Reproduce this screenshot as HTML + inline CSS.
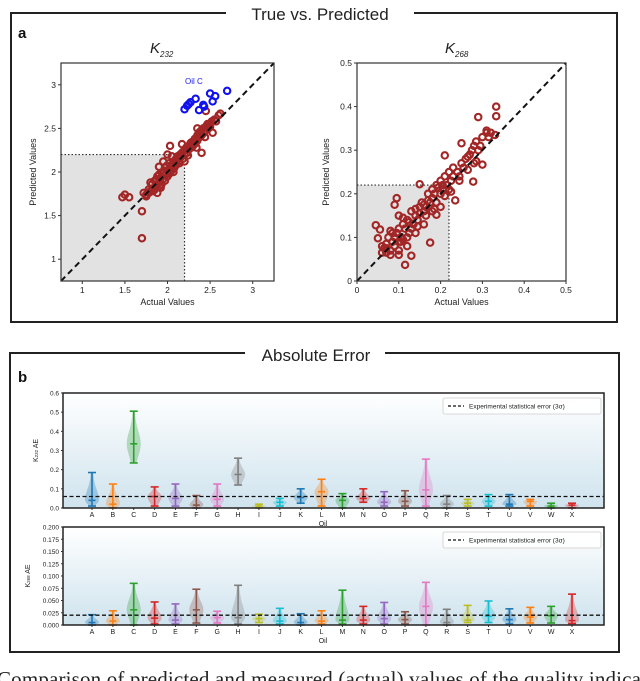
<!DOCTYPE html>
<html><head><meta charset="utf-8"><style>
html,body{margin:0;padding:0;background:#fff;}
svg{display:block;font-family:"Liberation Sans",sans-serif;}
</style></head><body>
<svg id="fig" width="640" height="681" viewBox="0 0 640 681" xmlns="http://www.w3.org/2000/svg">
<defs>
<linearGradient id="bgGrad" x1="0" y1="1" x2="0" y2="0">
<stop offset="0" stop-color="#cfe3ee"/><stop offset="1" stop-color="#ffffff"/>
</linearGradient>
</defs>
<rect x="11" y="13" width="606" height="309" fill="none" stroke="#222" stroke-width="2"/>
<rect x="226" y="2" width="188" height="22" fill="#fff"/>
<text x="320" y="20" font-size="17" text-anchor="middle" fill="#222">True vs. Predicted</text>
<text x="18" y="38" font-size="15" font-weight="bold" fill="#111">a</text>
<text x="150" y="53" font-size="15" font-style="italic" fill="#222">K<tspan font-size="8" dy="4">232</tspan></text>
<text x="445" y="53" font-size="15" font-style="italic" fill="#222">K<tspan font-size="8" dy="4">268</tspan></text>
<rect x="10" y="353" width="609" height="299" fill="none" stroke="#222" stroke-width="2"/>
<rect x="245" y="342" width="140" height="22" fill="#fff"/>
<text x="316" y="361" font-size="17" text-anchor="middle" fill="#222">Absolute Error</text>
<text x="18" y="382" font-size="15" font-weight="bold" fill="#111">b</text>
<text x="-3" y="686" font-size="21" font-family="Liberation Serif, serif" fill="#222" textLength="650">Comparison of predicted and measured (actual) values of the quality indicat</text>
<g id="plots"></g>
</svg>
<script>
// ---- K232 scatter data ----
const k232Actual = [1.72,1.75,1.78,1.8,1.82,1.84,1.85,1.86,1.88,1.9,1.9,1.92,1.93,1.95,1.95,1.97,1.98,2.0,2.0,2.02,2.03,2.05,2.05,2.07,2.08,2.1,2.1,2.12,2.13,2.15,2.15,2.17,2.18,2.2,2.2,2.22,2.23,2.25,2.25,2.27,2.28,2.3,2.3,2.32,2.33,2.35,2.35,2.37,2.38,2.4,2.4,2.42,2.43,2.45,2.45,2.47,2.48,2.5,2.5,2.52,2.55,2.57,2.6,2.62,1.85,1.9,1.95,2.0,2.05,1.88,1.8,1.75,2.02,2.1,2.2,2.35,1.92,1.97,2.07,1.47,1.5,1.55,1.7,1.7,2.4,2.45,2.03,2.17,1.83,1.78,2.28,2.38,2.53,1.87,1.91,1.94,1.99,2.04,2.09,2.14,2.19,2.24,2.29,2.34,2.39,2.44,2.49];
const k232Pred   = [1.76,1.72,1.8,1.78,1.86,1.8,1.9,1.83,1.95,1.88,1.97,1.93,1.86,2.0,1.92,2.05,1.97,2.02,1.95,2.1,2.0,2.08,2.02,2.12,2.05,2.15,2.1,2.18,2.12,2.2,2.16,2.22,2.15,2.25,2.2,2.28,2.22,2.3,2.26,2.33,2.28,2.35,2.3,2.38,2.33,2.42,2.36,2.45,2.4,2.48,2.42,2.5,2.45,2.52,2.48,2.55,2.5,2.55,2.52,2.58,2.6,2.58,2.65,2.67,1.8,2.06,2.12,2.2,2.18,1.76,1.88,1.74,1.98,2.08,2.12,2.5,1.82,1.9,2.0,1.71,1.74,1.71,1.55,1.24,2.22,2.7,2.3,2.32,1.78,1.76,2.34,2.46,2.45,1.92,1.84,1.98,2.07,2.02,2.13,2.1,2.24,2.19,2.31,2.28,2.44,2.4,2.53];
const oilCActual = [2.2,2.23,2.25,2.27,2.33,2.37,2.42,2.5,2.53,2.56,2.7,2.43];
const oilCPred   = [2.72,2.76,2.78,2.8,2.84,2.71,2.77,2.9,2.81,2.87,2.93,2.75];
const k232Ticks = [1,1.5,2,2.5,3];
const k232TickLabels = ["1","1.5","2","2.5","3"];
// ---- K268 scatter data ----
const k268Actual = [0.045,0.05,0.055,0.06,0.065,0.07,0.07,0.075,0.08,0.08,0.085,0.09,0.09,0.095,0.1,0.1,0.1,0.105,0.11,0.11,0.115,0.12,0.12,0.125,0.13,0.13,0.135,0.14,0.14,0.145,0.15,0.15,0.155,0.16,0.16,0.165,0.17,0.17,0.175,0.18,0.18,0.185,0.19,0.19,0.195,0.2,0.2,0.205,0.21,0.21,0.215,0.22,0.22,0.225,0.23,0.23,0.24,0.245,0.25,0.255,0.26,0.265,0.27,0.275,0.28,0.28,0.285,0.29,0.295,0.3,0.31,0.315,0.32,0.09,0.095,0.115,0.13,0.175,0.21,0.25,0.29,0.333,0.333,0.3,0.278,0.235,0.19,0.15,0.33,0.31,0.1,0.12,0.14,0.16,0.08,0.11,0.18,0.2,0.06,0.1,0.07,0.085,0.105,0.125,0.145,0.165,0.185,0.205,0.225,0.245,0.265,0.285];
const k268Pred   = [0.128,0.098,0.118,0.08,0.075,0.085,0.065,0.1,0.07,0.115,0.09,0.1,0.08,0.11,0.12,0.09,0.07,0.1,0.13,0.095,0.12,0.14,0.1,0.11,0.16,0.12,0.13,0.15,0.165,0.14,0.17,0.155,0.18,0.16,0.175,0.17,0.2,0.185,0.18,0.21,0.19,0.2,0.22,0.18,0.215,0.2,0.23,0.21,0.24,0.195,0.22,0.25,0.21,0.23,0.26,0.24,0.25,0.23,0.27,0.26,0.28,0.255,0.29,0.3,0.31,0.27,0.32,0.3,0.31,0.33,0.34,0.33,0.34,0.175,0.19,0.037,0.058,0.088,0.288,0.316,0.376,0.4,0.378,0.267,0.228,0.185,0.152,0.222,0.335,0.345,0.06,0.08,0.11,0.13,0.06,0.145,0.16,0.17,0.065,0.15,0.075,0.11,0.09,0.135,0.125,0.15,0.165,0.22,0.205,0.24,0.285,0.275];
const k268Ticks = [0,0.1,0.2,0.3,0.4,0.5];
const k268TickLabels = ["0","0.1","0.2","0.3","0.4","0.5"];
// ---- Violin data ----
const oils = ["A","B","C","D","E","F","G","H","I","J","K","L","M","N","O","P","Q","R","S","T","U","V","W","X"];
const k232Min  = [0.01,0,0.235,0.01,0.01,0,0.01,0.12,0,0.01,0.025,0.01,0,0.03,0.01,0.01,0.01,0,0.01,0.01,0.01,0.01,0,0];
const k232Max  = [0.185,0.125,0.505,0.11,0.125,0.065,0.125,0.26,0.02,0.05,0.1,0.15,0.075,0.1,0.085,0.09,0.255,0.065,0.045,0.07,0.07,0.045,0.025,0.025];
const k232Mean = [0.04,0.02,0.335,0.06,0.05,0.015,0.045,0.175,0.01,0.03,0.055,0.085,0.04,0.05,0.03,0.035,0.095,0.02,0.025,0.035,0.02,0.035,0.01,0.015];
const k268Min  = [0,0,0,0.002,0.002,0.004,0.004,0.002,0.005,0.002,0,0.002,0.002,0.002,0.002,0.002,0,0,0.005,0.005,0.002,0.004,0.004,0.003];
const k268Max  = [0.021,0.029,0.085,0.047,0.043,0.073,0.028,0.081,0.022,0.034,0.023,0.029,0.071,0.038,0.046,0.027,0.087,0.032,0.04,0.049,0.033,0.036,0.038,0.063];
const k268Mean = [0.005,0.008,0.031,0.014,0.01,0.031,0.015,0.015,0.013,0.008,0.005,0.008,0.01,0.01,0.013,0.011,0.038,0.005,0.01,0.018,0.011,0.016,0.019,0.009];
const k232YTicks = [0,0.1,0.2,0.3,0.4,0.5,0.6];
const k232YLabels = ["0.0","0.1","0.2","0.3","0.4","0.5","0.6"];
const k268YTicks = [0,0.025,0.05,0.075,0.1,0.125,0.15,0.175,0.2];
const k268YLabels = ["0.000","0.025","0.050","0.075","0.100","0.125","0.150","0.175","0.200"];
const k232ErrLine = 0.06;
const k268ErrLine = 0.02;

const NS = "http://www.w3.org/2000/svg";
const root = document.getElementById("plots");
function mk(tag, attrs, parent) {
  const e = document.createElementNS(NS, tag);
  for (const k in attrs) e.setAttribute(k, attrs[k]);
  (parent || root).appendChild(e);
  return e;
}
const palette = ["#1f77b4","#ff7f0e","#2ca02c","#d62728","#9467bd","#8c564b","#e377c2","#7f7f7f","#bcbd22","#17becf"];

function scatter(cfg) {
  const g = mk("g", {});
  
  
  const sx = v => cfg.x0 + (v - cfg.dmin) / (cfg.dmax - cfg.dmin) * (cfg.x1 - cfg.x0);
  const sy = v => cfg.y1 - (v - cfg.dmin) / (cfg.dmax - cfg.dmin) * (cfg.y1 - cfg.y0);
  const shade = mk("rect", {x: cfg.x0, y: sy(cfg.shade), width: sx(cfg.shade) - cfg.x0, height: cfg.y1 - sy(cfg.shade), fill: "#e2e2e2"}, g);
  
  
  mk("path", {d: `M${cfg.x0},${sy(cfg.shade)} H${sx(cfg.shade)} V${cfg.y1}`, fill: "none", stroke: "#333", "stroke-width": 1.2, "stroke-dasharray": "1.5,2"}, g);
  const pts = mk("g", {}, g);
  
  
  for (let i = 0; i < cfg.xs.length; i++) {
    const c = mk("circle", {cx: sx(cfg.xs[i]), cy: sy(cfg.ys[i]), r: 3.2, fill: "none", stroke: "#a32626", "stroke-width": 2.1}, pts);
    
    
  }
  if (cfg.bx) {
    for (let i = 0; i < cfg.bx.length; i++) {
      const c = mk("circle", {cx: sx(cfg.bx[i]), cy: sy(cfg.by[i]), r: 3.2, fill: "none", stroke: "#1010f0", "stroke-width": 2.1}, pts);
      
      
    }
    const t = mk("text", {x: sx(2.31), y: sy(3.01), "font-size": 8, fill: "#1a1aee", "text-anchor": "middle"}, g);
    t.textContent = "Oil C";
    
    
  }
  const diag = mk("line", {x1: sx(cfg.dmin), y1: sy(cfg.dmin), x2: sx(cfg.dmax), y2: sy(cfg.dmax), stroke: "#111", "stroke-width": 2, "stroke-dasharray": "6,4"}, g);
  
  
  const fr = mk("rect", {x: cfg.x0, y: cfg.y0, width: cfg.x1 - cfg.x0, height: cfg.y1 - cfg.y0, fill: "none", stroke: "#333", "stroke-width": 1.2}, g);
  
  
  cfg.ticks.forEach((tv, i) => {
    mk("line", {x1: sx(tv), x2: sx(tv), y1: cfg.y1, y2: cfg.y1 + 3, stroke: "#333"}, g);
    const tx = mk("text", {x: sx(tv), y: cfg.y1 + 12, "font-size": 8.5, "text-anchor": "middle", fill: "#222"}, g);
    tx.textContent = cfg.labels[i];
    
    
    mk("line", {x1: cfg.x0 - 3, x2: cfg.x0, y1: sy(tv), y2: sy(tv), stroke: "#333"}, g);
    const ty = mk("text", {x: cfg.x0 - 5, y: sy(tv) + 3, "font-size": 8.5, "text-anchor": "end", fill: "#222"}, g);
    ty.textContent = cfg.labels[i];
    
    
  });
  const xl = mk("text", {x: (cfg.x0 + cfg.x1) / 2, y: cfg.y1 + 24, "font-size": 9, "text-anchor": "middle", fill: "#222"}, g);
  xl.textContent = "Actual Values";
  
  
  const yl = mk("text", {x: 0, y: 0, "font-size": 9, "text-anchor": "middle", fill: "#222", transform: `translate(${cfg.ylx},${(cfg.y0 + cfg.y1) / 2}) rotate(-90)`}, g);
  yl.textContent = "Predicted Values";
  
  
}

scatter({name: "k232-scatter", x0: 61, x1: 274, y0: 63, y1: 281, dmin: 0.75, dmax: 3.25, shade: 2.2,
  xs: k232Actual, ys: k232Pred, bx: oilCActual, by: oilCPred, ticks: k232Ticks, labels: k232TickLabels, ylx: 36});
scatter({name: "k268-scatter", x0: 357, x1: 566, y0: 63, y1: 281, dmin: 0, dmax: 0.5, shade: 0.22,
  xs: k268Actual, ys: k268Pred, ticks: k268Ticks, labels: k268TickLabels, ylx: 329});

function violins(cfg) {
  const g = mk("g", {});
  
  
  const n = oils.length;
  const cx0 = 92, cx1 = 572;
  const sx = i => cx0 + i * (cx1 - cx0) / (n - 1);
  const sy = v => cfg.y1 - v / cfg.ymax * (cfg.y1 - cfg.y0);
  const bg = mk("rect", {x: cfg.x0, y: cfg.y0, width: cfg.x1 - cfg.x0, height: cfg.y1 - cfg.y0, fill: "url(#bgGrad)"}, g);
  
  
  for (let i = 0; i < n; i++) {
    const col = palette[i % 10];
    const mn = cfg.mins[i], mx = cfg.maxs[i], me = cfg.means[i];
    const cx = sx(i);
    const sl = Math.max((me - mn) * 0.9, (mx - mn) * 0.08) + 1e-6;
    const su = Math.max((mx - me) * 0.55, (mx - mn) * 0.08) + 1e-6;
    const W = 6;
    const steps = 30; const right = [], left = [];
    for (let k = 0; k <= steps; k++) {
      const v = mn + (mx - mn) * k / steps;
      const s = v < me ? sl : su;
      const w = 1 + W * Math.exp(-Math.pow((v - me) / s, 2));
      right.push(`${(cx + w).toFixed(1)},${sy(v).toFixed(1)}`);
      left.unshift(`${(cx - w).toFixed(1)},${sy(v).toFixed(1)}`);
    }
    const vg = mk("g", {}, g);
    
    
    mk("polygon", {points: right.concat(left).join(" "), fill: col, "fill-opacity": 0.3}, vg);
    mk("line", {x1: cx, x2: cx, y1: sy(mn), y2: sy(mx), stroke: col, "stroke-width": 1.6}, vg);
    [mn, mx].forEach(v => mk("line", {x1: cx - 4, x2: cx + 4, y1: sy(v), y2: sy(v), stroke: col, "stroke-width": 1.6}, vg));
    mk("line", {x1: cx - 3.5, x2: cx + 3.5, y1: sy(me), y2: sy(me), stroke: col, "stroke-width": 1.6}, vg);
    const lt = mk("text", {x: cx, y: cfg.y1 + 9, "font-size": 7, "text-anchor": "middle", fill: "#222"}, g);
    lt.textContent = oils[i];
    
    
    mk("line", {x1: cx, x2: cx, y1: cfg.y1, y2: cfg.y1 + 2, stroke: "#333"}, g);
  }
  const el = mk("line", {x1: cfg.x0, x2: cfg.x1, y1: sy(cfg.err), y2: sy(cfg.err), stroke: "#111", "stroke-width": 1.3, "stroke-dasharray": "4,2.5"}, g);
  
  
  const fr = mk("rect", {x: cfg.x0, y: cfg.y0, width: cfg.x1 - cfg.x0, height: cfg.y1 - cfg.y0, fill: "none", stroke: "#222", "stroke-width": 1.5}, g);
  
  
  cfg.yticks.forEach((tv, i) => {
    mk("line", {x1: cfg.x0 - 2, x2: cfg.x0, y1: sy(tv), y2: sy(tv), stroke: "#333"}, g);
    const t = mk("text", {x: cfg.x0 - 4, y: sy(tv) + 2.5, "font-size": 6.5, "text-anchor": "end", fill: "#222"}, g);
    t.textContent = cfg.ylabels[i];
    
    
  });
  const ox = mk("text", {x: 323, y: cfg.y1 + 18, "font-size": 7, "text-anchor": "middle", fill: "#222"}, g);
  ox.textContent = "Oil";
  
  
  const yl = mk("text", {x: 0, y: 0, "font-size": 7, "text-anchor": "middle", fill: "#222", transform: `translate(${cfg.ylx},${(cfg.y0 + cfg.y1) / 2}) rotate(-90)`}, g);
  yl.innerHTML = cfg.ytitle;
  
  
  const lg = mk("g", {}, g);
  
  
  mk("rect", {x: 443, y: cfg.y0 + 5, width: 158, height: 16, rx: 2, fill: "#fff", "fill-opacity": 0.85, stroke: "#ccc", "stroke-width": 0.8}, lg);
  mk("line", {x1: 448, x2: 464, y1: cfg.y0 + 13, y2: cfg.y0 + 13, stroke: "#111", "stroke-width": 1.3, "stroke-dasharray": "3,2"}, lg);
  const lt = mk("text", {x: 469, y: cfg.y0 + 15.5, "font-size": 6.5, fill: "#222"}, lg);
  lt.textContent = "Experimental statistical error (3σ)";
  
  
}

violins({name: "k232-ae-violins", x0: 63, x1: 604, y0: 393, y1: 508, ymax: 0.6, mins: k232Min, maxs: k232Max, means: k232Mean,
  yticks: k232YTicks, ylabels: k232YLabels, err: k232ErrLine, ylx: 38, ytitle: 'K<tspan font-size="4.5">232</tspan> AE'});
violins({name: "k268-ae-violins", x0: 63, x1: 604, y0: 527, y1: 625, ymax: 0.2, mins: k268Min, maxs: k268Max, means: k268Mean,
  yticks: k268YTicks, ylabels: k268YLabels, err: k268ErrLine, ylx: 30, ytitle: 'K<tspan font-size="4.5">268</tspan> AE'});
</script>
</body></html>
